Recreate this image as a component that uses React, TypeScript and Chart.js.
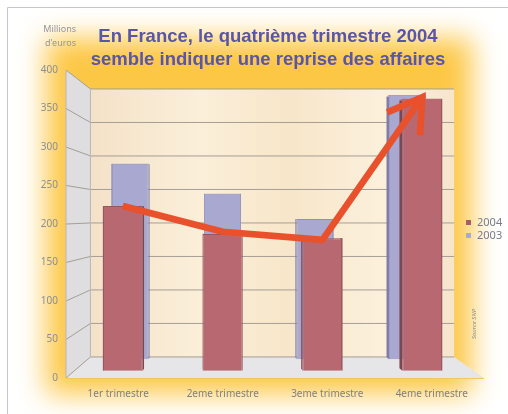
import React, { useEffect, useRef } from "react";
import { Chart, registerables } from "chart.js";

Chart.register(...registerables);

// ---- data ----
const categories = ["1er trimestre", "2eme trimestre", "3eme trimestre", "4eme trimestre"];
const values2004 = [224, 186, 180, 370];
const values2003 = [287, 243, 206, 388];
const trendValues = [224, 189, 178, 372];
const yMin = 0;
const yMax = 400;
const yStep = 50;
const titleLines = ["En France, le quatrième trimestre 2004", "semble indiquer une reprise des affaires"];
const unitLines = ["Millions", "d'euros"];
const sourceText = "Source SNP";

// ---- perspective (fractions of the chart area) ----
const BAR_VP = { fx: 0.37, fy: 0.474 };
const WALL_VP = { fx: 0.45, fy: 0.474 };
const WALL_SCALE = 0.87;

type P = { x: number; y: number };
const proj = (p: P, vp: P, s: number): P => ({ x: vp.x + (p.x - vp.x) * s, y: vp.y + (p.y - vp.y) * s });
const vpOf = (a: any, f: { fx: number; fy: number }): P => ({
  x: a.left + f.fx * (a.right - a.left),
  y: a.top + f.fy * (a.bottom - a.top),
});

const poly = (ctx: CanvasRenderingContext2D, pts: P[]) => {
  ctx.beginPath();
  pts.forEach((p, i) => (i ? ctx.lineTo(p.x, p.y) : ctx.moveTo(p.x, p.y)));
  ctx.closePath();
};

const scenePlugin = {
  id: "scene",
  beforeDraw(chart: any) {
    const { ctx, chartArea: a, scales } = chart;
    const y = scales.y;
    ctx.save();
    // frame
    ctx.strokeStyle = "#c6c5d1";
    ctx.lineWidth = 1;
    ctx.beginPath();
    ctx.moveTo(7.5, chart.height);
    ctx.lineTo(7.5, 7.5);
    ctx.lineTo(chart.width, 7.5);
    ctx.stroke();
    // yellow glow
    ctx.filter = "blur(14px)";
    ctx.fillStyle = "#fcc745";
    ctx.fillRect(a.left - 20, a.top - 32, a.right - a.left + 8, a.bottom - a.top + 48);
    ctx.filter = "none";

    const vp = vpOf(a, WALL_VP);
    const FLT = { x: a.left, y: a.top };
    const FLB = { x: a.left, y: a.bottom };
    const FRB = { x: a.right, y: a.bottom };
    const FRT = { x: a.right, y: a.top };
    const BLT = proj(FLT, vp, WALL_SCALE);
    const BLB = proj(FLB, vp, WALL_SCALE);
    const BRB = proj(FRB, vp, WALL_SCALE);
    const BRT = proj(FRT, vp, WALL_SCALE);

    // back wall
    const g = ctx.createLinearGradient(BLT.x, 0, BRT.x, 0);
    g.addColorStop(0, "#f4e2c8");
    g.addColorStop(0.3, "#fbefd9");
    g.addColorStop(0.55, "#f7e6c9");
    g.addColorStop(0.8, "#fcf0dc");
    g.addColorStop(1, "#f6e5cb");
    ctx.fillStyle = g;
    poly(ctx, [BLT, BRT, BRB, BLB]);
    ctx.fill();
    // left wall
    ctx.fillStyle = "#dedde0";
    poly(ctx, [FLT, BLT, BLB, FLB]);
    ctx.fill();
    // floor
    ctx.fillStyle = "#e6e5e7";
    poly(ctx, [FLB, BLB, BRB, FRB]);
    ctx.fill();

    // grid lines
    ctx.strokeStyle = "#a69e96";
    ctx.lineWidth = 1;
    for (let v = yMin; v <= yMax; v += yStep) {
      const yf = y.getPixelForValue(v);
      const b = proj({ x: a.left, y: yf }, vp, WALL_SCALE);
      const br = proj({ x: a.right, y: yf }, vp, WALL_SCALE);
      ctx.beginPath();
      ctx.moveTo(a.left, yf);
      ctx.lineTo(b.x, b.y);
      ctx.lineTo(br.x, br.y);
      ctx.stroke();
    }
    // edges
    ctx.strokeStyle = "#b9b7bf";
    ctx.beginPath();
    ctx.moveTo(FLT.x, FLT.y);
    ctx.lineTo(FLB.x, FLB.y);
    ctx.moveTo(BLT.x, BLT.y);
    ctx.lineTo(BLB.x, BLB.y);
    ctx.stroke();
    ctx.strokeStyle = "#f0c860";
    ctx.beginPath();
    ctx.moveTo(FLB.x, FLB.y + 0.5);
    ctx.lineTo(FRB.x, FRB.y + 0.5);
    ctx.stroke();
    ctx.restore();
  },
  afterDraw(chart: any) {
    const { ctx } = chart;
    ctx.save();
    // title
    ctx.fillStyle = "#5955a8";
    ctx.font = "bold 18.5px 'Liberation Sans', Arial, sans-serif";
    ctx.textAlign = "center";
    ctx.textBaseline = "middle";
    ctx.fillText(titleLines[0], 268, 37);
    ctx.fillText(titleLines[1], 268, 60);
    // unit
    ctx.fillStyle = "#9595a3";
    ctx.font = "9px 'Noto Sans', sans-serif";
    ctx.textAlign = "right";
    ctx.fillText(unitLines[0], 76, 29);
    ctx.fillText(unitLines[1], 76, 43);
    // legend
    const items = chart.data.datasets.filter((d: any) => d.type === "bar");
    ctx.font = "11px 'Noto Sans', sans-serif";
    ctx.textAlign = "left";
    items.forEach((d: any, i: number) => {
      const cy = 223 + i * 13;
      ctx.fillStyle = d.legendColor;
      ctx.fillRect(466, cy - 3, 5, 5);
      ctx.fillStyle = "#7a7a8e";
      ctx.fillText(d.label, 477, cy);
    });
    // source
    ctx.translate(474, 324);
    ctx.rotate(-Math.PI / 2);
    ctx.textAlign = "center";
    ctx.font = "italic 6px 'Noto Sans', sans-serif";
    ctx.fillStyle = "#8a8a8a";
    ctx.fillText(sourceText, 0, 0);
    ctx.restore();
  },
};

const depthPlugin = {
  id: "depth",
  beforeDatasetDraw(chart: any, args: any) {
    const ds = chart.data.datasets[args.index];
    const d = ds.depth;
    if (!d) return;
    const ctx = chart.ctx;
    const vp = vpOf(chart.chartArea, BAR_VP);
    ctx.save();
    if (ds.type === "bar") {
      for (const el of args.meta.data) {
        const l = el.x - el.width / 2;
        const r = el.x + el.width / 2;
        const t = el.y;
        const b = el.base;
        const f = (x: number, yy: number) => proj({ x, y: yy }, vp, d.front);
        const k = (x: number, yy: number) => proj({ x, y: yy }, vp, d.back);
        ctx.fillStyle = d.side;
        poly(ctx, [f(r, t), f(r, b), k(r, b), k(r, t)]);
        ctx.fill();
        poly(ctx, [f(l, t), f(l, b), k(l, b), k(l, t)]);
        ctx.fill();
        ctx.fillStyle = d.top;
        poly(ctx, [f(l, t), f(r, t), k(r, t), k(l, t)]);
        ctx.fill();
      }
    }
    ctx.translate(vp.x, vp.y);
    ctx.scale(d.front, d.front);
    ctx.translate(-vp.x, -vp.y);
  },
  afterDatasetDraw(chart: any, args: any) {
    const ds = chart.data.datasets[args.index];
    const d = ds.depth;
    if (!d) return;
    const ctx = chart.ctx;
    if (ds.type === "line") {
      const pts = args.meta.data;
      const last = pts[pts.length - 1];
      const prev = pts[pts.length - 2];
      const ang = Math.atan2(last.y - prev.y, last.x - prev.x) + Math.PI;
      const len = 40;
      const spread = 0.55;
      ctx.strokeStyle = ds.borderColor;
      ctx.lineWidth = ds.borderWidth;
      ctx.lineJoin = "miter";
      ctx.lineCap = "butt";
      ctx.beginPath();
      ctx.moveTo(last.x + len * Math.cos(ang + spread), last.y + len * Math.sin(ang + spread));
      ctx.lineTo(last.x, last.y);
      ctx.lineTo(last.x + len * Math.cos(ang - spread), last.y + len * Math.sin(ang - spread));
      ctx.stroke();
    }
    ctx.restore();
  },
};

export default function App() {
  const ref = useRef<HTMLCanvasElement>(null);
  useEffect(() => {
    document.body.style.overflow = "hidden";
    const chart = new Chart(ref.current as HTMLCanvasElement, {
      type: "bar",
      data: {
        labels: categories,
        datasets: [
          {
            type: "line",
            label: "tendance",
            data: trendValues,
            borderColor: "#e8512b",
            borderWidth: 7,
            pointRadius: 0,
            tension: 0,
            fill: false,
            clip: false,
            order: 0,
            borderJoinStyle: "round",
            depth: { front: 0.955 },
          } as any,
          {
            type: "bar",
            label: "2004",
            data: values2004,
            backgroundColor: "#b86871",
            borderColor: "#9c5560",
            borderWidth: 1,
            grouped: false,
            barPercentage: 0.8,
            categoryPercentage: 0.5,
            clip: false,
            order: 1,
            legendColor: "#a35e68",
            depth: { front: 0.955, back: 0.94, side: "#7d4750", top: "#c98a91" },
          } as any,
          {
            type: "bar",
            label: "2003",
            data: values2003,
            backgroundColor: "#a8a8d0",
            borderColor: "#8f8fba",
            borderWidth: 1,
            grouped: false,
            barPercentage: 0.8,
            categoryPercentage: 0.5,
            clip: false,
            order: 2,
            legendColor: "#a9a9cf",
            depth: { front: 0.885, back: 0.872, side: "#7f7da8", top: "#c4c4e0" },
          } as any,
        ],
      },
      options: {
        responsive: false,
        animation: false,
        devicePixelRatio: 1,
        layout: { padding: { top: 70, left: 0, right: 24, bottom: 0 } },
        plugins: { legend: { display: false }, tooltip: { enabled: false }, title: { display: false } },
        scales: {
          x: {
            grid: { display: false, drawTicks: false },
            border: { display: false },
            ticks: { padding: 10, color: "#7f7f86", font: { family: "'Noto Sans', sans-serif", size: 10 }, maxRotation: 0 },
            afterFit: (s: any) => {
              s.height = 36;
            },
          },
          y: {
            min: yMin,
            max: yMax,
            grid: { display: false, drawTicks: false },
            border: { display: false },
            ticks: { stepSize: yStep, padding: 8, color: "#8d8d93", font: { family: "'Noto Sans', sans-serif", size: 10 } },
            afterFit: (s: any) => {
              s.width = 66;
            },
          },
        },
      } as any,
      plugins: [scenePlugin, depthPlugin],
    });
    return () => chart.destroy();
  }, []);
  return (
    <div style={{ position: "absolute", left: 0, top: 0, width: 508, height: 414, background: "#fff" }}>
      <canvas ref={ref} width={508} height={414} style={{ display: "block" }} />
    </div>
  );
}
